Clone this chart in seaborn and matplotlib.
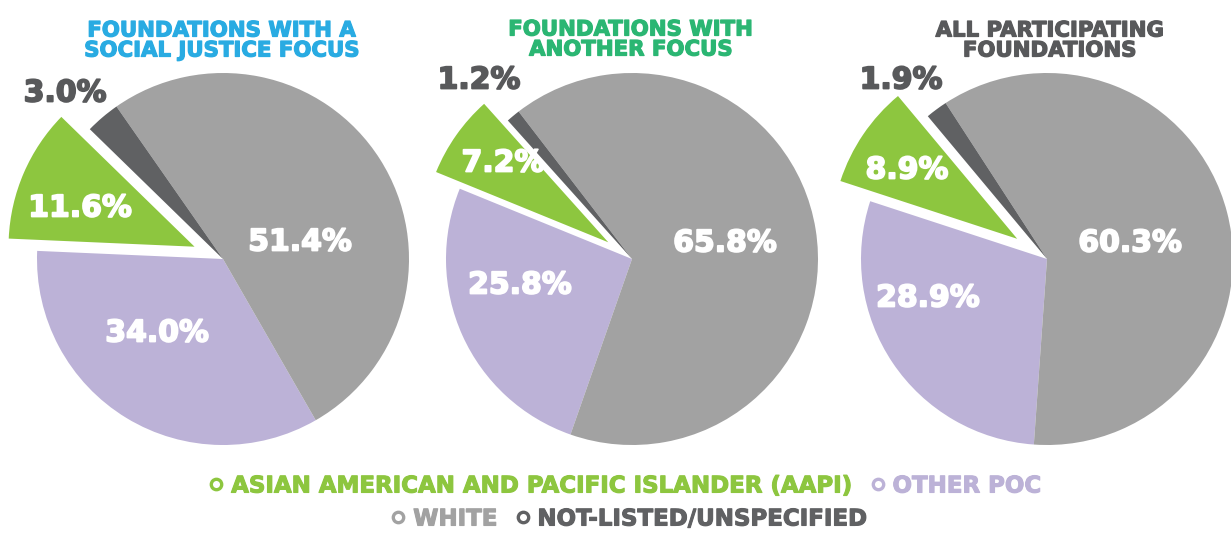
import matplotlib
matplotlib.use("Agg")
import matplotlib.pyplot as plt
import matplotlib.patheffects as pe
from matplotlib.lines import Line2D
import seaborn as sns

# ---------------- data ----------------
groups = ["FOUNDATIONS WITH A\nSOCIAL JUSTICE FOCUS",
          "FOUNDATIONS WITH\nANOTHER FOCUS",
          "ALL PARTICIPATING\nFOUNDATIONS"]
categories = ["OTHER POC", "WHITE", "NOT-LISTED/UNSPECIFIED",
              "ASIAN AMERICAN AND PACIFIC ISLANDER (AAPI)"]
other_poc = [34.0, 25.8, 28.9]
white = [51.4, 65.8, 60.3]
not_listed = [3.0, 1.2, 1.9]
aapi = [11.6, 7.2, 8.9]

# ---------------- style ----------------
sns.set_theme(style="white")
FONT = ["DejaVu Sans"]
plt.rcParams["font.family"] = FONT

C_POC, C_WHITE, C_NL, C_AAPI = sns.color_palette(["#bcb2d7", "#a2a2a2", "#606163", "#8dc63f"])
colors = [C_POC, C_WHITE, C_NL, C_AAPI]
title_colors = ["#29abe2", "#2bb673", "#58595b"]
label_dark = "#58595b"


def heavy(c, w=1.0):
    return [pe.Stroke(linewidth=w, foreground=c), pe.Normal()]


W, H = 1231, 533
fig = plt.figure(figsize=(W / 100, H / 100), dpi=100)
ax = fig.add_axes([0, 0, 1, 1])

R = 186
centers = [(223, H - 259), (632, H - 259), (1047, H - 259)]
start_angles = [177.5, 157.8, 161.9]
explodes = [31, 29, 36]
title_pos = [(222, H - 40.5), (631, H - 39.5), (1050, H - 40.5)]
# label offsets (dx, dy) from pie centre, per category order
label_off = [
    [(-66, -74), (77, 17), (-158, 166), (-143, 51)],
    [(-112, -26), (93, 16), (-153, 179), (-129, 96)],
    [(-119, -39), (83, 16), (-146, 179), (-140, 89)],
]

for i in range(3):
    vals = [other_poc[i], white[i], not_listed[i], aapi[i]]
    ax.pie(vals, colors=colors, startangle=start_angles[i], counterclock=True,
           radius=R, center=centers[i],
           explode=[0, 0, 0, explodes[i]],
           wedgeprops=dict(linewidth=0), frame=True)
    cx, cy = centers[i]
    for j, v in enumerate(vals):
        dx, dy = label_off[i][j]
        col = label_dark if j == 2 else "white"
        ax.text(cx + dx, cy + dy, f"{v:.1f}%", ha="center", va="center",
                fontsize=21.5, fontweight="bold", color=col,
                path_effects=heavy(col, 1.3))
    tx, ty = title_pos[i]
    ax.text(tx, ty, groups[i], ha="center", va="center", fontsize=15.3,
            fontweight="bold", color=title_colors[i], linespacing=1.0,
            path_effects=heavy(title_colors[i], 0.9))

ax.set_xlim(0, W)
ax.set_ylim(0, H)
ax.set_aspect("equal")
ax.axis("off")


def handle(c):
    return Line2D([], [], marker="o", linestyle="", markerfacecolor="none",
                  markeredgecolor=c, markeredgewidth=2.4, markersize=7.5)


lprop = dict(family=FONT, weight="bold", size=16.5)
leg1 = ax.legend([handle(C_AAPI), handle(C_POC)], [categories[3], categories[0]],
                 loc="center", bbox_to_anchor=(624 / W, 1 - 486 / H),
                 bbox_transform=ax.transAxes, ncol=2, frameon=False,
                 handletextpad=0.25, columnspacing=0.7, handlelength=0.8,
                 prop=lprop, labelcolor=[C_AAPI, C_POC])
ax.add_artist(leg1)
leg2 = ax.legend([handle(C_WHITE), handle(C_NL)], [categories[1], categories[2]],
                 loc="center", bbox_to_anchor=(628 / W, 1 - 519 / H),
                 bbox_transform=ax.transAxes, ncol=2, frameon=False,
                 handletextpad=0.25, columnspacing=0.7, handlelength=0.8,
                 prop=lprop, labelcolor=[C_WHITE, C_NL])
for leg in (leg1, leg2):
    for t in leg.get_texts():
        t.set_path_effects(heavy(t.get_color(), 0.8))

fig.savefig("out.png", dpi=100)
